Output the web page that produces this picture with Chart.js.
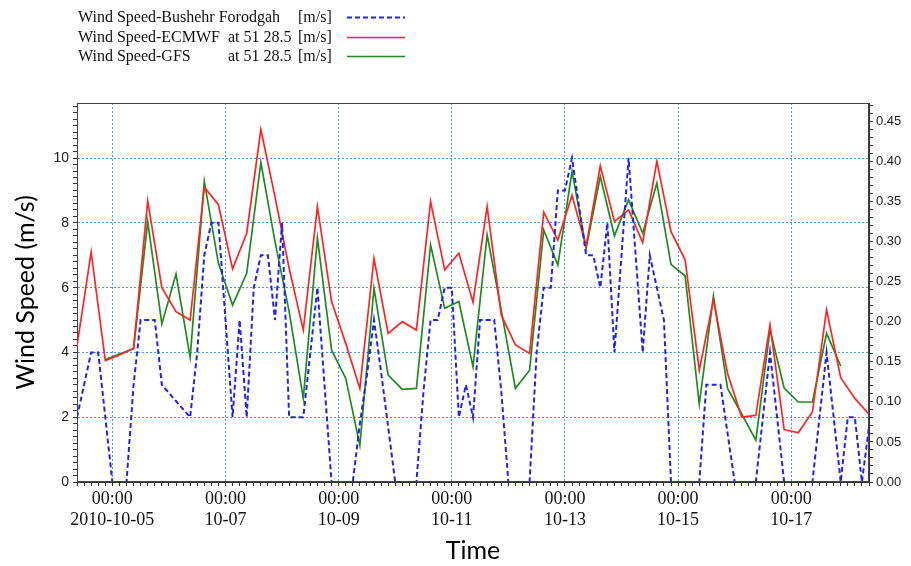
<!DOCTYPE html>
<html><head><meta charset="utf-8">
<script src="https://cdn.jsdelivr.net/npm/chart.js@4.4.1/dist/chart.umd.min.js"></script>
<style>
html,body{margin:0;padding:0;background:#fff;}
#wrap{position:relative;width:911px;height:566px;overflow:hidden;background:#fff;}
#legend{position:absolute;left:78px;top:7px;font-family:"Liberation Serif","Times New Roman",serif;font-size:16px;color:#111;}
.row{position:relative;height:19.5px;width:340px;line-height:19.5px;white-space:nowrap;}
.row span{position:absolute;top:0;}
.row svg{position:absolute;top:0;}
</style></head><body>
<div id="wrap"><canvas id="c" width="911" height="566"></canvas><div id="legend"></div></div>
<script>
// ---- data (hours relative to 2010-10-05 00:00) ----
const obsHours = [-15,-12,-9,-6,-3,0,3,6,9,12,15,18,21,24,27,30,33,36,39,42,45,48,51,54,57,60,63,66,69,72,75,78,81,84,87,90,93,96,99,102,105,108,111,114,117,120,123,126,129,132,135,138,141,144,147,150,153,156,159,162,165,168,171,174,177,180,183,186,189,192,195,198,201,204,207,210,213,216,219,222,225,228,231,234,237,240,243,246,249,252,255,258,261,264,267,270,273,276,279,282,285,288,291,294,297,300,303,306,309,312,315,318,321];
const obsSpeed = [2,3,4,4,2,0,0,0,3,5,5,5,3,2.75,2.5,2.25,2,4,7,8,8,5,2,5,2,6,7,7,5,8,2,2,2,4,6,3,0,0,0,0,1.8,3.3,5,3.4,1.7,0,0,0,0,2.8,5,5,6,6,2,3,2,5,5,5,2.8,0,0,0,0,4,6,6,9,9,10,8.5,7,7,6,8,4,7,10,7,4,7,6,5,0,0,0,0,0,3,3,3,1.5,0,0,0,0,2,4,2,0,0,0,0,0,2,4,2,0,2,2,0,1.7];
const modelHours = [-15,-9,-3,3,9,15,21,27,33,39,45,51,57,63,69,75,81,87,93,99,105,111,117,123,129,135,141,147,153,159,165,171,177,183,189,195,201,207,213,219,225,231,237,243,249,255,261,267,273,279,285,291,297,303,309,315,321];
const ecmwfSpeed = [4.2,7.1,3.75,3.92,4.12,8.68,6.0,5.26,5.0,9.1,8.56,6.58,7.68,10.88,8.8,6.6,4.69,8.5,5.57,4.28,2.89,6.9,4.59,4.95,4.69,8.66,6.55,7.06,5.55,8.5,5.15,4.23,3.97,8.33,7.47,8.85,7.27,9.76,8.04,8.4,7.39,9.9,7.73,6.86,3.45,5.62,3.35,2.0,2.06,4.85,1.62,1.52,2.16,5.31,3.22,2.58,2.09];
const gfsSpeed = [null,null,3.78,3.95,4.12,8.04,4.88,6.42,3.85,9.28,6.75,5.46,6.44,9.87,7.42,5.26,2.58,7.53,4.07,3.2,1.13,5.98,3.3,2.86,2.89,7.32,5.36,5.57,3.56,7.63,5.3,2.89,3.45,7.78,6.7,9.59,7.22,9.43,7.6,8.71,7.68,9.23,6.72,6.36,2.4,5.74,2.89,2.1,1.29,4.71,2.9,2.47,2.47,4.59,3.58,null,null];
const dayTickHours = [0,48,96,144,192,240,288];
const dayTickLabels = ['2010-10-05','10-07','10-09','10-11','10-13','10-15','10-17'];
const seriesNames = ['Wind Speed-Bushehr Forodgah','Wind Speed-ECMWF','Wind Speed-GFS'];
const seriesLocs = ['','at 51 28.5','at 51 28.5'];
const seriesUnit = '[m/s]';

const colBlue = '#2323e6', colRed = '#ff2424', colGreen = '#1e8c1e';
const gridBlue = 'rgba(60,150,230,0.95)';

const toXY = (xs, ys) => xs.map((x, i) => ({x: x, y: ys[i]}));

const frame = {
  id: 'frame',
  beforeDatasetsDraw(chart) {
    const {ctx, chartArea: a} = chart;
    ctx.save();
    ctx.strokeStyle = '#444';
    ctx.lineWidth = 1;
    ctx.strokeRect(Math.round(a.left) + 0.5, Math.round(a.top) + 0.5, Math.round(a.right - a.left) - 1, Math.round(a.bottom - a.top) - 1);
    ctx.restore();
  }
};

const chart = new Chart(document.getElementById('c'), {
  type: 'line',
  data: {
    datasets: [
      {label: seriesNames[0] + ' ' + seriesUnit, data: toXY(obsHours, obsSpeed), borderColor: colBlue, borderWidth: 2, borderDash: [5, 3], pointRadius: 0, tension: 0, yAxisID: 'y'},
      {label: seriesNames[1] + ' ' + seriesLocs[1] + ' ' + seriesUnit, data: toXY(modelHours, ecmwfSpeed), borderColor: colRed, borderWidth: 1.7, pointRadius: 0, tension: 0, yAxisID: 'y'},
      {label: seriesNames[2] + ' ' + seriesLocs[2] + ' ' + seriesUnit, data: toXY(modelHours, gfsSpeed), borderColor: colGreen, borderWidth: 1.7, pointRadius: 0, tension: 0, yAxisID: 'y'}
    ]
  },
  options: {
    responsive: false,
    animation: false,
    devicePixelRatio: 1,
    layout: {padding: {top: 103, left: 0, right: 0, bottom: 0}},
    plugins: {legend: {display: false}, tooltip: {enabled: false}},
    scales: {
      x: {
        type: 'linear', position: 'bottom', min: -15, max: 321,
        afterFit: s => { s.height = 84; },
        ticks: {
          stepSize: 3, autoSkip: false, maxRotation: 0, includeBounds: false, padding: 2,
          font: {family: 'Liberation Serif', size: 18}, color: '#111',
          callback: v => { const i = dayTickHours.indexOf(v); return i >= 0 ? ['00:00', dayTickLabels[i]] : ''; }
        },
        grid: {
          color: c => (c.tick && dayTickHours.indexOf(c.tick.value) >= 0) ? gridBlue : 'rgba(0,0,0,0)',
          lineWidth: 1, tickLength: 4, tickColor: '#333', tickWidth: 1
        },
        border: {display: true, color: '#333', dash: [2, 2]},
        title: {display: true, text: 'Time', font: {family: 'Lato', size: 25}, color: '#000', padding: {top: 0, bottom: 0}}
      },
      y: {
        type: 'linear', position: 'left', min: 0, max: 11.7,
        afterFit: s => { s.width = 77; },
        ticks: {
          stepSize: 0.2, autoSkip: false, includeBounds: false, padding: 4,
          font: {family: 'Liberation Sans', size: 14}, color: '#222',
          callback: v => { const r = Math.round(v * 10); return (r % 20 === 0) ? String(r / 10) : ''; }
        },
        grid: {
          color: c => (c.tick && Math.round(c.tick.value * 10) % 20 === 0) ? gridBlue : 'rgba(0,0,0,0)',
          lineWidth: 1, tickLength: 4, tickColor: '#333', tickWidth: 1
        },
        border: {display: true, color: '#333', dash: [2, 2]},
        title: {display: true, text: 'Wind Speed (m/s)', font: {family: 'Lato', size: 25}, color: '#000', padding: {top: 11, bottom: 0}}
      },
      y1: {
        type: 'linear', position: 'right', min: 0, max: 0.473,
        afterFit: s => { s.width = 42; },
        ticks: {
          stepSize: 0.01, autoSkip: false, includeBounds: false, padding: 3,
          font: {family: 'Liberation Sans', size: 13}, color: '#222',
          callback: v => { const r = Math.round(v * 100); return (r % 5 === 0) ? (r / 100).toFixed(2) : ''; }
        },
        grid: {drawOnChartArea: false, tickLength: 4, tickColor: '#333', tickWidth: 1},
        border: {display: true, color: '#333'}
      }
    }
  },
  plugins: [frame]
});

// HTML legend built from the dataset styles
const legend = document.getElementById('legend');
chart.data.datasets.forEach((ds, i) => {
  const row = document.createElement('div');
  row.className = 'row';
  const n = document.createElement('span'); n.style.left = '0px'; n.textContent = seriesNames[i];
  const l = document.createElement('span'); l.style.left = '150px'; l.textContent = seriesLocs[i];
  const u = document.createElement('span'); u.style.left = '220px'; u.textContent = seriesUnit;
  const svgNS = 'http://www.w3.org/2000/svg';
  const svg = document.createElementNS(svgNS, 'svg');
  svg.setAttribute('width', '60'); svg.setAttribute('height', '19');
  svg.style.left = '269px';
  const ln = document.createElementNS(svgNS, 'line');
  ln.setAttribute('x1', '0'); ln.setAttribute('x2', '58'); ln.setAttribute('y1', '10.5'); ln.setAttribute('y2', '10.5');
  ln.setAttribute('stroke', ds.borderColor); ln.setAttribute('stroke-width', ds.borderWidth);
  if (ds.borderDash) ln.setAttribute('stroke-dasharray', ds.borderDash.join(' '));
  svg.appendChild(ln);
  row.appendChild(n); row.appendChild(l); row.appendChild(u); row.appendChild(svg);
  legend.appendChild(row);
});
</script>
</body></html>
